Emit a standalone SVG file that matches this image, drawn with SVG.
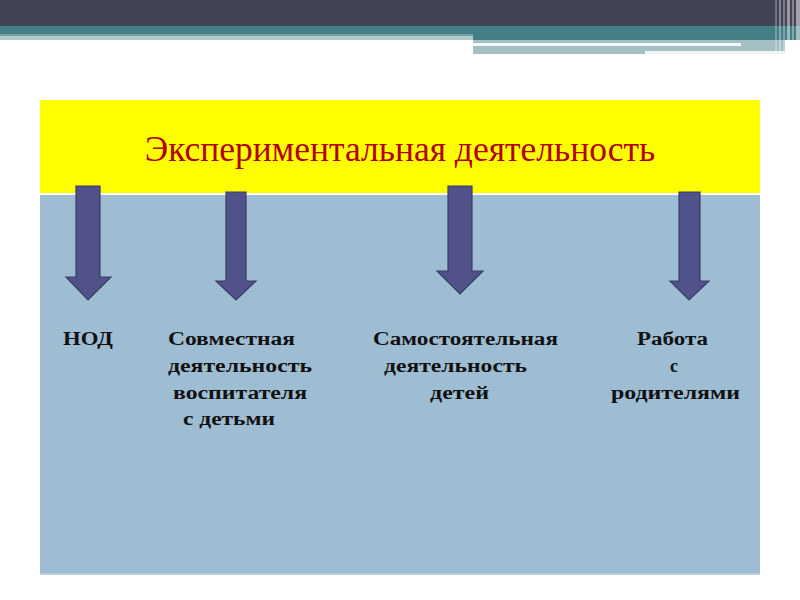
<svg xmlns="http://www.w3.org/2000/svg" width="800" height="600" viewBox="0 0 800 600">
<style>
.arrow{fill:#51528A;stroke:#3B3C66;stroke-width:1.2;stroke-linejoin:miter}
.lbl{font-family:"Liberation Serif","Times New Roman",serif;font-weight:bold;font-size:18px;fill:#111111}
.title{font-family:"Liberation Serif","Times New Roman",serif;font-size:35.5px;fill:#B00000}
</style>
<rect width="800" height="600" fill="#FFFFFF"/>
<g id="header">
<rect x="0" y="0" width="800" height="26" fill="#434356"/>
<rect x="0" y="26" width="800" height="8" fill="#457E84"/>
<rect x="0" y="34" width="473" height="2" fill="#76A0A4"/>
<rect x="0" y="36" width="473" height="4" fill="#AFC9CB"/>
<rect x="473" y="34" width="327" height="6" fill="#457E84"/>
<rect x="473" y="40" width="312" height="12" fill="#A3C0C3"/>
<rect x="473" y="43" width="268" height="3" fill="#F4F8F8"/>
<rect x="473" y="52" width="172" height="2" fill="#A3C0C3"/>
<rect x="645" y="51" width="140" height="3" fill="#EEF4F4"/>
<g fill="#FFFFFF">
<rect x="775" y="0" width="2" height="54" opacity="0.25"/>
<rect x="779" y="0" width="2" height="54" opacity="0.35"/>
<rect x="783" y="0" width="2" height="54" opacity="0.3"/>
<rect x="787" y="0" width="3" height="54" opacity="0.45"/>
<rect x="792" y="0" width="2" height="54" opacity="0.35"/>
<rect x="796" y="0" width="4" height="54" opacity="0.5"/>
</g>
</g>
<g id="panel">
<rect x="40" y="195" width="720" height="379" fill="#9EBDD3"/>
<rect x="40" y="573" width="720" height="2" fill="#B7D0E0"/>
</g>
<g id="title-box">
<rect x="40" y="100" width="720" height="93" fill="#FFFF00"/>
<text class="title" x="400" y="161" text-anchor="middle">Экспериментальная деятельность</text>
</g>
<g id="connectors">
<polygon class="arrow" points="76,186 100,186 100,277 111,277 88,300 66,277 76,277"/>
<polygon class="arrow" points="226,192 246,192 246,281 256,281 236,300 216,281 226,281"/>
<polygon class="arrow" points="448,186 472,186 472,271 483,271 460,294 437,271 448,271"/>
<polygon class="arrow" points="679,192 700,192 700,281 709,281 689,300 670,281 679,281"/>
</g>
<g id="node-nod">
<text class="lbl" x="63" y="345" textLength="50" lengthAdjust="spacingAndGlyphs">НОД</text>
</g>
<g id="node-sovm">
<text class="lbl" x="168" y="345" textLength="127" lengthAdjust="spacingAndGlyphs">Совместная</text>
<text class="lbl" x="168" y="372" textLength="144" lengthAdjust="spacingAndGlyphs">деятельность</text>
<text class="lbl" x="173" y="399" textLength="134" lengthAdjust="spacingAndGlyphs">воспитателя</text>
<text class="lbl" x="183" y="425" textLength="92" lengthAdjust="spacingAndGlyphs">с детьми</text>
</g>
<g id="node-samost">
<text class="lbl" x="373" y="345" textLength="185" lengthAdjust="spacingAndGlyphs">Самостоятельная</text>
<text class="lbl" x="384" y="372" textLength="143" lengthAdjust="spacingAndGlyphs">деятельность</text>
<text class="lbl" x="430" y="399" textLength="59" lengthAdjust="spacingAndGlyphs">детей</text>
</g>
<g id="node-rabota">
<text class="lbl" x="637" y="345" textLength="71" lengthAdjust="spacingAndGlyphs">Работа</text>
<text class="lbl" x="670" y="372">с</text>
<text class="lbl" x="611" y="399" textLength="129" lengthAdjust="spacingAndGlyphs">родителями</text>
</g>
</svg>
